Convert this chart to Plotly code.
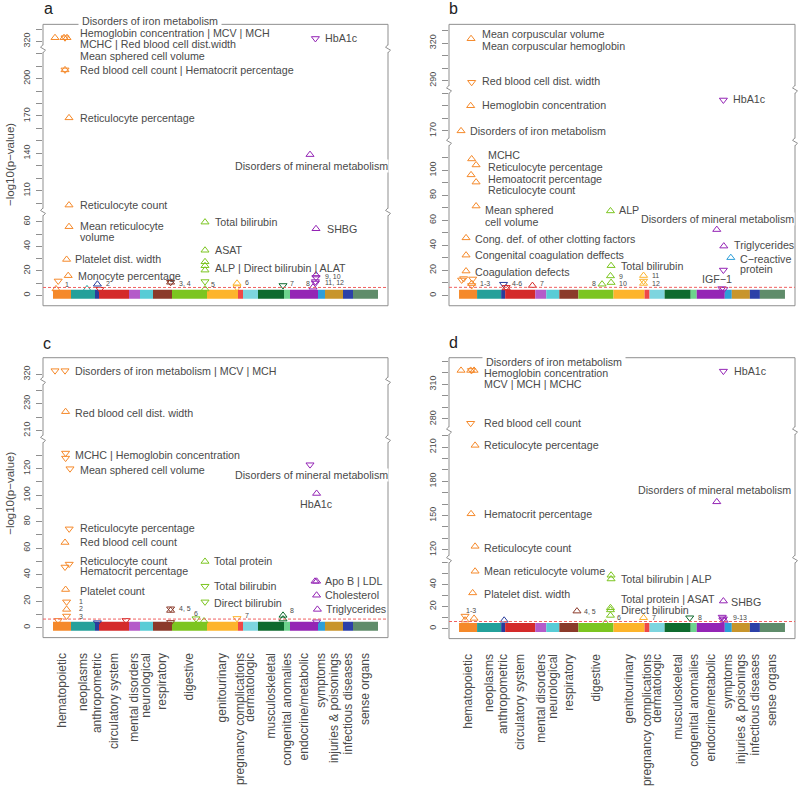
import plotly.graph_objects as go

# ---------------------------------------------------------------- data
CATEGORIES = ["hematopoietic", "neoplasms", "anthropometric", "circulatory system",
              "mental disorders", "neurological", "respiratory", "digestive",
              "genitourinary", "pregnancy complications", "dermatologic",
              "musculoskeletal", "congenital anomalies", "endocrine/metabolic",
              "symptoms", "injuries & poisonings", "infectious diseases", "sense organs"]
# number of phenotypes per category (x positions are phenotype indices)
CAT_SIZES = [90, 120, 20, 150, 55, 65, 95, 175, 155, 25, 75, 130, 30, 140, 35, 90, 50, 125]
CAT_COLORS = ["#F5892A", "#24A09A", "#283C9C", "#D42A2A", "#B45BC9", "#58CCD6",
              "#8B3A2A", "#7CC520", "#FDB42B", "#EF4747", "#7DD5DF", "#0E6A2E",
              "#6DD38D", "#9424B5", "#2E9ED8", "#C8952C", "#2C40A8", "#5F8C6A"]
CLOUD_LEVEL = 1.0      # typical -log10(p) of the non-significant phenotypes
THRESHOLD = 6.5        # significance threshold (-log10 p)

# ---- panel a : highlighted phenotypes
A_POS = [10, 55, 60, 70, 60, 60, 80, 80, 80, 68, 76, 26, 15, 170, 222, 235, 588, 588,
         760, 760, 760, 760, 760, 760, 760, 920, 920, 1150, 1315, 1300, 1315, 1315,
         1312, 1312, 1312, 1285]
A_VAL = [323, 323, 323, 323, 207, 207, 168.5, 98.5, 56, 29.3, 16.1, 11.8, 5.3, 5.3, 9.1,
         5, 10.7, 10.7, 59.7, 36.8, 27.4, 24.2, 20.6, 11.3, 5.2, 9.9, 6.4, 8.1, 54.3, 6.7,
         16.6, 14.7, 11.3, 10.1, 322.4, 139]
A_DIR = ["u", "u", "d", "u", "u", "d", "u", "u", "u", "u", "u", "d", "u", "u", "u", "d",
         "u", "d", "u", "u", "u", "u", "u", "d", "u", "u", "d", "d", "u", "u", "u", "d",
         "d", "d", "d", "u"]
A_SEGMENTS = [(-8.4, 68), (93, 224), (314, 334)]
A_TICKLABELS = [0, 20, 40, 60, 110, 140, 170, 200, 320]
A_LABELS = ["Disorders of iron metabolism", "Hemoglobin concentration | MCV | MCH",
            "MCHC | Red blood cell dist.width", "Mean sphered cell volume",
            "Red blood cell count | Hematocrit percentage", "Reticulocyte percentage",
            "HbA1c", "Disorders of mineral metabolism", "Reticulocyte count",
            "Mean reticulocyte", "volume", "Platelet dist. width", "Monocyte percentage",
            "1", "2", "3, 4", "Total bilirubin", "ASAT", "ALP | Direct bilirubin | ALAT",
            "5", "6", "7", "SHBG", "8", "9, 10", "11, 12"]

# ---- panel b
B_POS = [60, 63, 58, 1318, 10, 63, 85, 60, 85, 85, 35, 35, 35, 13, 23, 68, 63, 63, 222,
         235, 235, 366, 755, 758, 755, 758, 713, 920, 920, 920, 1285, 1320, 1355, 1318,
         1310, 1320]
B_VAL = [323.5, 288.7, 190, 194.6, 170, 109, 104.2, 96.3, 90.5, 71.4, 46, 32.2, 19.5, 12.4,
         13.5, 13.2, 9.5, 8, 9, 6.5, 6, 7.9, 67.5, 23.8, 15.6, 10.3, 9, 15.9, 11.5, 9.6,
         52.6, 39.4, 30.2, 20.3, 5.5, 5]
B_DIR = ["u", "d", "u", "d", "u", "u", "u", "u", "u", "u", "u", "u", "u", "d", "d", "d",
         "u", "d", "d", "d", "u", "u", "u", "u", "u", "u", "u", "u", "d", "u", "u", "u",
         "u", "d", "d", "d"]
B_SEGMENTS = [(-8.2, 122.7), (161.3, 203), (283, 335)]
B_TICKLABELS = [0, 20, 40, 60, 80, 100, 170, 290, 320]
B_LABELS = ["Mean corpuscular volume", "Mean corpuscular hemoglobin",
            "Red blood cell dist. width", "Hemoglobin concentration", "HbA1c",
            "Disorders of iron metabolism", "MCHC", "Reticulocyte percentage",
            "Hemoatocrit percentage", "Reticulocyte count", "Mean sphered", "cell volume",
            "Cong. def. of other clotting factors", "Congenital coagulation deffects",
            "Coagulation defects", "1-3", "4-6", "7", "ALP", "Total bilirubin", "9", "10",
            "8", "11", "12", "Disorders of mineral metabolism", "Triglycerides",
            "C\u2212reactive", "protein", "IGF\u22121"]

# ---- panel c
C_POS = [10, 60, 63, 63, 63, 85, 1285, 1318, 81, 60, 60, 81, 760, 760, 760, 63, 68, 68,
         68, 26, 222, 365, 588, 588, 588, 715, 755, 920, 1150, 1150, 1310, 1318, 1318,
         1322, 1318]
C_VAL = [322.8, 322.8, 224, 131.8, 128, 120, 123, 101.3, 74.6, 64.3, 45.8, 48, 50, 31.3,
         19.5, 28.8, 19.5, 13.8, 8.8, 5.5, 3.8, 5.5, 14.3, 13, 4, 6.8, 5, 7, 9.3, 6.5,
         35, 35, 24.5, 13.8, 4.5]
C_DIR = ["d", "d", "u", "d", "d", "d", "d", "u", "d", "u", "d", "d", "u", "d", "d", "u",
         "d", "u", "d", "d", "d", "d", "d", "u", "d", "d", "u", "d", "u", "u", "u", "u",
         "u", "u", "d"]
C_SEGMENTS = [(-7.5, 142.5), (203.7, 247), (315, 332.7)]
C_TICKLABELS = [0, 20, 40, 60, 80, 100, 120, 210, 230, 320]
C_LABELS = ["Disorders of iron metabolism | MCV | MCH", "Red blood cell dist. width",
            "MCHC | Hemoglobin concentration", "Mean sphered cell volume",
            "Disorders of mineral metabolism", "HbA1c", "Reticulocyte percentage",
            "Red blood cell count", "Reticulocyte count", "Hematocrit percentage",
            "Total protein", "Total bilirubin", "Direct bilirubin", "Platelet count",
            "1", "2", "3", "4, 5", "6", "7", "8", "Apo B | LDL", "Cholesterol",
            "Triglycerides"]

# ---- panel d
D_POS = [10, 58, 62, 75, 1318, 58, 80, 1285, 60, 80, 80, 68, 758, 758, 755, 755, 755,
         1318, 1312, 1318, 1315, 1322, 30, 75, 30, 588, 225, 920, 1150, 730]
D_VAL = [322, 322, 322, 322, 321.4, 276.3, 211.5, 162, 151.5, 123, 52, 32.4, 48.4, 45,
         18.9, 17, 12, 25, 10.5, 9, 8, 7.5, 11.4, 9.3, 7.7, 15.9, 7.6, 9.9, 9.9, 5]
D_DIR = ["u", "u", "d", "u", "d", "d", "u", "u", "u", "u", "u", "u", "u", "u", "u", "u",
         "u", "u", "d", "d", "d", "u", "d", "u", "u", "u", "u", "u", "d", "u"]
D_SEGMENTS = [(-9, 63), (111.8, 224.5), (270, 333)]
D_TICKLABELS = [0, 20, 40, 120, 150, 180, 210, 280, 310]
D_LABELS = ["Disorders of iron metabolism", "Hemoglobin concentration", "MCV | MCH | MCHC",
            "HbA1c", "Red blood cell count", "Reticulocyte percentage",
            "Disorders of mineral metabolism", "Hematocrit percentage", "Reticulocyte count",
            "Mean reticulocyte volume", "Platelet dist. width", "Total bilirubin | ALP",
            "Total protein | ASAT", "Direct bilirubin", "6", "SHBG", "9-13", "1-3", "4, 5",
            "7", "8"]

# ---------------------------------------------------------------- layout / placement
# label placement: (anchor point index, xanchor, x shift px, y shift px, white background pad)
A_PLACE = [(3, "left", 10.7, 16.3, 3), (3, "left", 10.7, 4.3, None),
           (3, "left", 10.7, -6.7, None), (3, "left", 10.7, -18, None),
           (4, "left", 12.7, 0, None), (6, "left", 8.7, 0, None),
           (34, "left", 7.3, 0, None), (35, "center", 1, -11, 0),
           (7, "left", 8.7, 0, None), (8, "left", 8.7, 1, None),
           (8, "left", 8.7, -10.6, None), (9, "left", 6.7, 0, None),
           (10, "left", 7.8, 0, None), (11, "left", 4.5, -3.3, None),
           (14, "left", 6.9, 1, None), (16, "left", 6.1, -1, None),
           (18, "left", 8.1, 0, None), (19, "left", 8.1, 0, None),
           (21, "left", 8.1, -2, None), (23, "left", 4.1, -2.7, None),
           (25, "left", 6.3, 0.7, None), (27, "left", 5.3, 2.3, None),
           (28, "left", 9, 0, None), (29, "right", -1, 3.7, None),
           (30, "left", 7.3, -1.6, None), (32, "left", 7.9, -1, None)]
B_PLACE = [(0, "left", 9, 4.3, None), (0, "left", 9, -7, None),
           (1, "left", 8.4, 1, None), (2, "left", 9.4, 1, None),
           (3, "left", 7.4, 1.4, None), (4, "left", 6.7, 0, None),
           (5, "left", 14.4, 4.3, None), (6, "left", 10, -2.3, None),
           (7, "left", 15, -4, None), (8, "left", 10, -7.7, None),
           (9, "left", 7.3, -4.4, None), (9, "left", 7.3, -16, None),
           (10, "left", 7.3, -1.4, None), (11, "left", 7.3, 0, None),
           (12, "left", 7.3, -0.6, None), (16, "left", 6.7, 0, None),
           (18, "left", 6.6, 0.7, None), (21, "left", 5.1, 2.3, None),
           (22, "left", 6.7, 0.6, None), (23, "left", 7.7, 0, None),
           (24, "left", 6.7, -0.6, None), (25, "left", 6.1, -1, None),
           (26, "right", -4.3, 0.7, None), (27, "left", 6.3, -0.4, None),
           (28, "left", 6.3, -2.6, None), (30, "center", 0.7, 11, 0),
           (31, "left", 8.7, 1, None), (32, "left", 7.3, -1.7, None),
           (32, "left", 7.3, -11.4, None), (33, "center", -6.6, -9, None)]
C_PLACE = [(1, "left", 7.7, 0, None), (2, "left", 7.1, -1, None),
           (3, "left", 7.1, -1.7, None), (5, "left", 7.7, -1, None),
           (6, "center", 1.7, -10.6, 0), (7, "center", 0, -11, None),
           (8, "left", 8.5, 1.3, None), (9, "left", 12.7, 0, None),
           (11, "left", 8.5, 2.7, None), (11, "left", 8.5, -7.3, None),
           (12, "left", 6.7, 0, None), (13, "left", 6.7, 0, None),
           (14, "left", 6.7, -1, None), (15, "left", 12.1, -1.7, None),
           (16, "left", 10.1, 0.7, None), (17, "left", 10.1, 0.6, None),
           (18, "left", 10.1, 0, None), (22, "left", 6.1, 0, None),
           (25, "center", 0, 5.4, None), (27, "left", 5.7, 3.3, None),
           (28, "left", 4.7, 5.3, None), (31, "left", 6.1, 0, None),
           (32, "left", 6.1, 0.7, None), (33, "left", 6.6, 0, None)]
D_PLACE = [(3, "left", 7.7, 8.8, 3), (3, "left", 7.7, -2.2, None),
           (3, "left", 7.7, -13.9, None), (4, "left", 9.1, 0, None),
           (5, "left", 11.1, 0, None), (6, "left", 6.7, 0, None),
           (7, "center", -2.7, 12.3, 0), (8, "left", 10.7, 0, None),
           (9, "left", 6.7, -1.7, None), (10, "left", 6.7, 0, None),
           (11, "left", 9.1, -0.6, None), (13, "left", 7.7, 0, None),
           (14, "left", 8.3, 8.4, None), (16, "left", 8.3, 5, None),
           (16, "left", 5, -2.4, None), (17, "left", 5.7, -0.7, None),
           (19, "left", 7.4, 1, None), (23, "center", -3.3, 8, None),
           (25, "left", 5.1, 0, None), (27, "left", 6.3, 0.7, None),
           (28, "left", 6, 0.7, None)]

W, H = 798, 786
TEXT = "#4a4a4a"
FRAME = "#8f8f8f"
FONT = "Liberation Sans, Arial, Helvetica, sans-serif"
X_RANGE = [-50, 1675]

PANELS = [
    dict(name="a", pos=A_POS, val=A_VAL, dir=A_DIR, segs=A_SEGMENTS, major=A_TICKLABELS,
         labels=A_LABELS, place=A_PLACE, box=(43, 24.5, 388, 307.7), cuts=(213.3, 49.0),
         xlabels=False, letter=(48.3, 8.3), ytitle=166),
    dict(name="b", pos=B_POS, val=B_VAL, dir=B_DIR, segs=B_SEGMENTS, major=B_TICKLABELS,
         labels=B_LABELS, place=B_PLACE, box=(449, 24.5, 795, 307.7), cuts=(142.7, 90.0),
         xlabels=False, letter=(453.3, 8.3), ytitle=None),
    dict(name="c", pos=C_POS, val=C_VAL, dir=C_DIR, segs=C_SEGMENTS, major=C_TICKLABELS,
         labels=C_LABELS, place=C_PLACE, box=(43, 360, 388, 641.7), cuts=(441.7, 383.3),
         xlabels=True, letter=(46.7, 345.5), ytitle=497),
    dict(name="d", pos=D_POS, val=D_VAL, dir=D_DIR, segs=D_SEGMENTS, major=D_TICKLABELS,
         labels=D_LABELS, place=D_PLACE, box=(449, 360, 795, 642.7), cuts=(562.7, 433.3),
         xlabels=True, letter=(453.3, 345.0), ytitle=None),
]

cat_start = []
_s = 0
for _n in CAT_SIZES:
    cat_start.append(_s)
    _s += _n
cat_center = [st + n / 2 for st, n in zip(cat_start, CAT_SIZES)]


def cat_of(p):
    for i, st in enumerate(cat_start):
        if st <= p < st + CAT_SIZES[i]:
            return i
    return len(CAT_SIZES) - 1


def seg_of(v, segs):
    for j, (lo, hi) in enumerate(segs):
        if lo <= v <= hi:
            return j
    raise ValueError(v)


def X(px):
    return px / W


def Y(py):
    return 1 - py / H


fig = go.Figure()
axes = {}
shapes = []
annotations = []

for i, P in enumerate(PANELS):
    xname = "xaxis" if i == 0 else f"xaxis{i + 1}"
    xref = "x" if i == 0 else f"x{i + 1}"
    left, top, right, bottom = P["box"]
    c0, c1 = P["cuts"]
    seg_px = [(c0, bottom), (c1, c0), (top, c1)]
    yrefs = []
    for j, (lo, hi) in enumerate(P["segs"]):
        k = 3 * i + j + 1
        yname = "yaxis" if k == 1 else f"yaxis{k}"
        yref = "y" if k == 1 else f"y{k}"
        yrefs.append(yref)
        ptop, pbot = seg_px[j]
        tv = [t for t in range(int(lo // 10 * 10), int(hi) + 11, 10) if lo + 2 <= t <= hi - 3]
        tt = [str(t) if t in P["major"] else "" for t in tv]
        axes[yname] = dict(domain=[Y(pbot), Y(ptop)], range=[lo, hi], anchor=xref,
                           showgrid=False, zeroline=False, showline=False,
                           ticks="outside", ticklen=6, tickwidth=1, tickcolor=FRAME,
                           tickvals=tv, ticktext=tt, tickangle=-90,
                           tickfont=dict(size=9, color=TEXT), ticklabelstandoff=2,
                           fixedrange=True)
    axes[xname] = dict(domain=[X(left), X(right)], range=X_RANGE, anchor=yrefs[0],
                       showgrid=False, zeroline=False, showline=False, ticks="",
                       tickvals=cat_center, ticktext=CATEGORIES,
                       showticklabels=P["xlabels"], tickangle=-90,
                       tickfont=dict(size=12, color=TEXT), ticklabelstandoff=12,
                       fixedrange=True)

    # dense cloud of non-significant phenotypes, one band per category
    for c in range(len(CATEGORIES)):
        fig.add_trace(go.Scatter(
            x=[cat_start[c], cat_start[c] + CAT_SIZES[c]], y=[CLOUD_LEVEL, CLOUD_LEVEL],
            mode="lines", line=dict(color=CAT_COLORS[c], width=9),
            xaxis=xref, yaxis=yrefs[0], hoverinfo="skip"))

    # highlighted phenotypes
    for j in range(3):
        for d, sym in (("u", "triangle-up-open"), ("d", "triangle-down-open")):
            idx = [n for n in range(len(P["pos"]))
                   if P["dir"][n] == d and seg_of(P["val"][n], P["segs"]) == j]
            if not idx:
                continue
            cols = [CAT_COLORS[cat_of(P["pos"][n])] for n in idx]
            fig.add_trace(go.Scatter(
                x=[P["pos"][n] for n in idx], y=[P["val"][n] for n in idx],
                mode="markers", xaxis=xref, yaxis=yrefs[j], hoverinfo="skip",
                marker=dict(symbol=sym, size=7, color=cols,
                            line=dict(width=1, color=cols))))

    # labels
    for text, (n, xa, dx, dy, pad) in zip(P["labels"], P["place"]):
        small = all(ch in "0123456789,- " for ch in text)
        v = P["val"][n]
        ann = dict(x=P["pos"][n], y=v, xref=xref, yref=yrefs[seg_of(v, P["segs"])],
                   text=text, showarrow=False, xanchor=xa, yanchor="middle",
                   xshift=dx, yshift=dy,
                   font=dict(size=7 if small else 10.7, color=TEXT, family=FONT))
        if pad is not None:
            ann.update(bgcolor="white", borderpad=pad)
        annotations.append(ann)

    # frame
    shapes.append(dict(type="rect", xref="paper", yref="paper", x0=X(left), x1=X(right),
                       y0=Y(bottom), y1=Y(top), line=dict(color=FRAME, width=1),
                       fillcolor="rgba(0,0,0,0)", layer="above"))
    # axis breaks
    for cy in P["cuts"]:
        for cx in (left, right):
            shapes.append(dict(type="line", xref="paper", yref="paper", x0=X(cx), x1=X(cx),
                               y0=Y(cy + 3.5), y1=Y(cy - 3.5),
                               line=dict(color="white", width=3), layer="above"))
            path = (f"M {X(cx)},{Y(cy - 4)} L {X(cx - 2.5)},{Y(cy - 1.5)} "
                    f"L {X(cx + 2.5)},{Y(cy + 1.5)} L {X(cx)},{Y(cy + 4)}")
            shapes.append(dict(type="path", xref="paper", yref="paper", path=path,
                               line=dict(color=FRAME, width=1), layer="above"))
    # significance threshold
    shapes.append(dict(type="line", xref=f"{xref} domain", x0=0, x1=1, yref=yrefs[0],
                       y0=THRESHOLD, y1=THRESHOLD,
                       line=dict(color="#F06060", width=1, dash="3px,2px"), layer="above"))

    # panel letter and y title
    lx, ly = P["letter"]
    annotations.append(dict(x=X(lx), y=Y(ly), xref="paper", yref="paper", text=P["name"],
                            showarrow=False, xanchor="center", yanchor="middle",
                            font=dict(size=16, color="#222222", family=FONT)))
    if P["ytitle"] is not None:
        annotations.append(dict(x=X(10), y=Y(P["ytitle"]), xref="paper", yref="paper",
                                text="\u2212log10(p\u2212value)", textangle=-90,
                                showarrow=False, xanchor="center", yanchor="middle",
                                font=dict(size=11.5, color=TEXT, family=FONT)))

fig.update_layout(width=W, height=H, margin=dict(l=0, r=0, t=0, b=0),
                  paper_bgcolor="white", plot_bgcolor="rgba(0,0,0,0)",
                  showlegend=False, hovermode=False,
                  font=dict(family=FONT, color=TEXT),
                  shapes=shapes, annotations=annotations, **axes)

fig.write_html("out.html", config={"displayModeBar": False, "staticPlot": True},
               post_script="document.body.style.margin='0';"
                           "document.body.style.overflow='hidden';")
